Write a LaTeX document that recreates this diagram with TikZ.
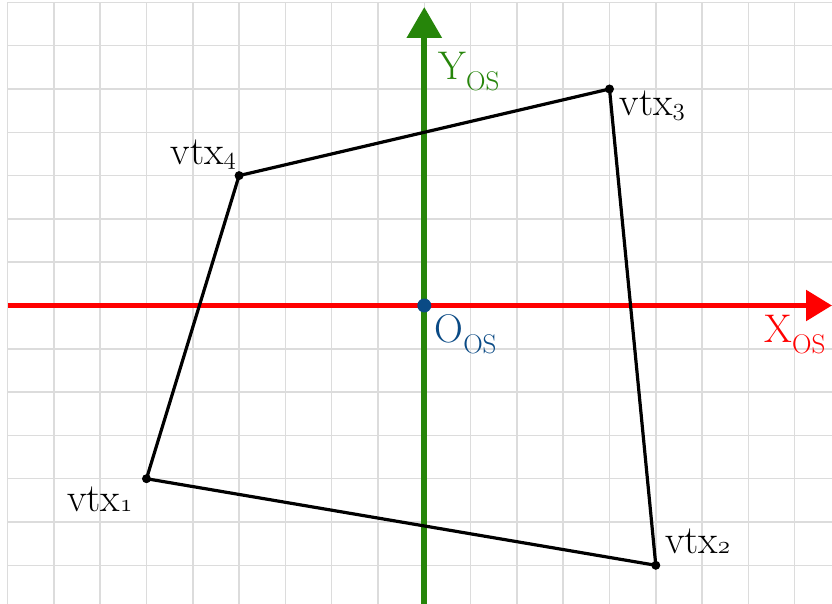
\documentclass[tikz,border=0pt]{standalone}
\usepackage{fontspec}
\usetikzlibrary{arrows.meta}
\definecolor{gridgray}{RGB}{220,220,220}
\definecolor{axgreen}{RGB}{38,133,10}
\definecolor{axred}{RGB}{255,0,0}
\definecolor{orgblue}{RGB}{10,74,133}
\tikzset{
  gridline/.style={draw=gridgray, line width=1.5pt},
  poly/.style={draw=black, line width=3.2pt, line join=round},
  vdot/.style={fill=black},
  lbl/.style={inner sep=0pt, font=\fontsize{40}{46}\selectfont}
}
\newcommand{\osub}{\raisebox{-11pt}{\fontsize{27}{30}\selectfont OS}}
\newcommand{\ofig}[1]{{\fontencoding{OML}\fontfamily{lmm}\fontseries{m}\fontshape{it}\selectfont #1}}
\begin{document}
\begin{tikzpicture}[x=46.3pt,y=43.3pt]
\useasboundingbox (-424.3pt,-298.5pt) rectangle (407.7pt,305.5pt);
\fill[white] (-424.3pt,-298.5pt) rectangle (407.7pt,305.5pt);
% grid
\foreach \k in {-9,...,8} \draw[gridline] (\k,-298.5pt) -- (\k,7);
\foreach \j in {-6,...,7} \draw[gridline] (-9,\j) -- (407.7pt,\j);
% coordinates
\coordinate (O) at (0,0);
\coordinate (xs) at (-9,0);
\coordinate (xe) at (407.7pt,0);
\coordinate (ys) at (0,-298.5pt);
\coordinate (ye) at (0,298.5pt);
\coordinate (v1) at (-6,-4);
\coordinate (v2) at (5,-6);
\coordinate (v3) at (4,5);
\coordinate (v4) at (-4,3);
% axes
\draw[axred, line width=5.5pt, -{Triangle[length=26pt,width=30pt]}] (xs) -- (xe);
\draw[axgreen, line width=6pt, -{Triangle[length=31pt,width=34pt]}] (ys) -- (ye);
% polygon
\draw[poly] (v1) -- (v2) -- (v3) -- (v4) -- cycle;
\foreach \v in {v1,v2,v3,v4} \fill[vdot] (\v) circle (4.5pt);
\fill[orgblue] (O) circle (7pt);
% labels
\node[lbl, anchor=base east] (l1) at ([shift={(-14pt,-33pt)}]v1) {vtx\ofig{1}};
\node[lbl, anchor=base west] (l2) at ([shift={(9pt,12pt)}]v2) {vtx\ofig{2}};
\node[lbl, anchor=base west] (l3) at ([shift={(10pt,-27pt)}]v3) {vtx\ofig{3}};
\node[lbl, anchor=base east] (l4) at ([shift={(-3pt,11pt)}]v4) {vtx\ofig{4}};
\node[lbl, anchor=base west, text=axgreen] (ly) at ([shift={(14pt,225.5pt)}]O) {Y\osub};
\node[lbl, anchor=base west, text=orgblue] (lo) at ([shift={(10pt,-37.5pt)}]O) {O\osub};
\node[lbl, anchor=base west, text=axred] (lx) at ([shift={(340pt,-37.5pt)}]O) {X\osub};
\end{tikzpicture}
\end{document}
